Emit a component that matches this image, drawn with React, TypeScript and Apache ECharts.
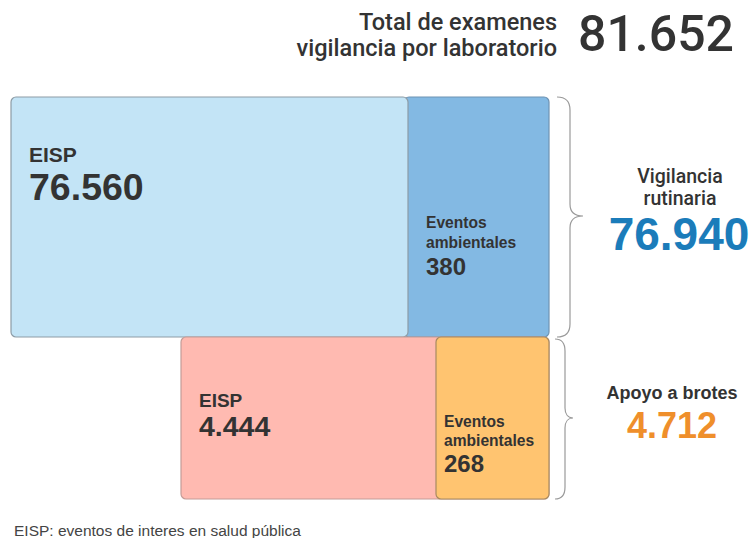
import React, { useEffect, useRef } from "react";
import * as echarts from "echarts";

// ---- data ----
const titleLines = ["Total de examenes", "vigilancia por laboratorio"];
const groupLabels = [["Vigilancia", "rutinaria"], ["Apoyo a brotes"]];
const eispLabel = "EISP";
const ambientalLabel = ["Eventos", "ambientales"];
const eispValues = [76560, 4444];
const ambientalValues = [380, 268];
const footnote = "EISP: eventos de interes en salud pública";

const fmt = (n: number) => String(n).replace(/\B(?=(\d{3})+(?!\d))/g, ".");

echarts.graphic.registerShape(
  "braceTop",
  echarts.graphic.extendPath(
    "M557 97 C566 97 570 101 570 110 L570 204 C570 212 574 216 583 216 C574 216 570 220 570 228 L570 324 C570 333 566 337 557 337",
    {}
  )
);
echarts.graphic.registerShape(
  "braceBottom",
  echarts.graphic.extendPath(
    "M555 339 C561 339 565 343 565 351 L565 408 C565 414 568 418 573 418 C568 418 565 422 565 428 L565 487 C565 495 561 499 555 499",
    {}
  )
);

const SANS = '"Liberation Sans", Arial, sans-serif';
const ROBOTO = 'Roboto, "Liberation Sans", sans-serif';

function txt(x: number, y: number, text: string, font: string, fill: string, align = "left") {
  return {
    type: "text",
    x,
    y,
    style: { text, font, fill, align, verticalAlign: "middle" },
  };
}

function rect(x: number, y: number, w: number, h: number, fill: string, stroke: string) {
  return {
    type: "rect",
    shape: { x, y, width: w, height: h, r: 5 },
    style: { fill, stroke, lineWidth: 1.2 },
  };
}

export default function App() {
  const ref = useRef<HTMLDivElement>(null);
  useEffect(() => {
    document.body.style.margin = "0";
    const chart = echarts.init(ref.current!, null, { renderer: "svg" });
    const groupTotals = eispValues.map((v, i) => v + ambientalValues[i]);
    const total = groupTotals.reduce((a, b) => a + b, 0);
    const dark = "#333333";
    const elements: any[] = [
      // title
      txt(557, 22, titleLines[0], `500 23.5px ${ROBOTO}`, dark, "right"),
      txt(557, 48, titleLines[1], `500 23.5px ${ROBOTO}`, dark, "right"),
      txt(578, 34, fmt(total), `500 50px ${ROBOTO}`, dark, "left"),
      // top row boxes
      rect(404, 97, 145, 240, "#83b9e3", "#6f93b3"),
      rect(11, 97, 397, 240, "#c3e4f6", "#8d9ca6"),
      // bottom row boxes
      rect(181, 337, 368, 162, "#ffbab1", "#c39c97"),
      rect(436, 337, 113, 162, "#ffc470", "#a88a60"),
      // top labels
      txt(29, 154, eispLabel, `bold 21px ${SANS}`, dark),
      txt(29, 187, fmt(eispValues[0]), `bold 37.5px ${SANS}`, dark),
      txt(426, 222, ambientalLabel[0], `bold 15.6px ${SANS}`, dark),
      txt(426, 242, ambientalLabel[1], `bold 15.6px ${SANS}`, dark),
      txt(426, 266, fmt(ambientalValues[0]), `bold 24px ${SANS}`, dark),
      // bottom labels
      txt(199, 400, eispLabel, `bold 19px ${SANS}`, dark),
      txt(199, 426, fmt(eispValues[1]), `bold 28.5px ${SANS}`, dark),
      txt(444, 421, ambientalLabel[0], `bold 15.6px ${SANS}`, dark),
      txt(444, 440, ambientalLabel[1], `bold 15.6px ${SANS}`, dark),
      txt(444, 463, fmt(ambientalValues[1]), `bold 24px ${SANS}`, dark),
      // braces
      { type: "braceTop", style: { fill: "none", stroke: "#9a9a9a", lineWidth: 1.2 } },
      { type: "braceBottom", style: { fill: "none", stroke: "#9a9a9a", lineWidth: 1.2 } },
      // right group labels
      txt(680, 176, groupLabels[0][0], `500 19.5px ${ROBOTO}`, dark, "center"),
      txt(680, 198, groupLabels[0][1], `500 19.5px ${ROBOTO}`, dark, "center"),
      txt(679, 234, fmt(groupTotals[0]), `bold 46px ${SANS}`, "#1b7cba", "center"),
      txt(672, 393, groupLabels[1][0], `bold 18px ${SANS}`, dark, "center"),
      txt(672, 425, fmt(groupTotals[1]), `bold 36px ${SANS}`, "#ef8f2b", "center"),
      // footnote
      txt(14, 530, footnote, `15.5px ${SANS}`, "#444444"),
    ];
    chart.setOption({ animation: false, graphic: { elements } });
    return () => chart.dispose();
  }, []);
  return <div ref={ref} style={{ width: 752, height: 538 }} />;
}
